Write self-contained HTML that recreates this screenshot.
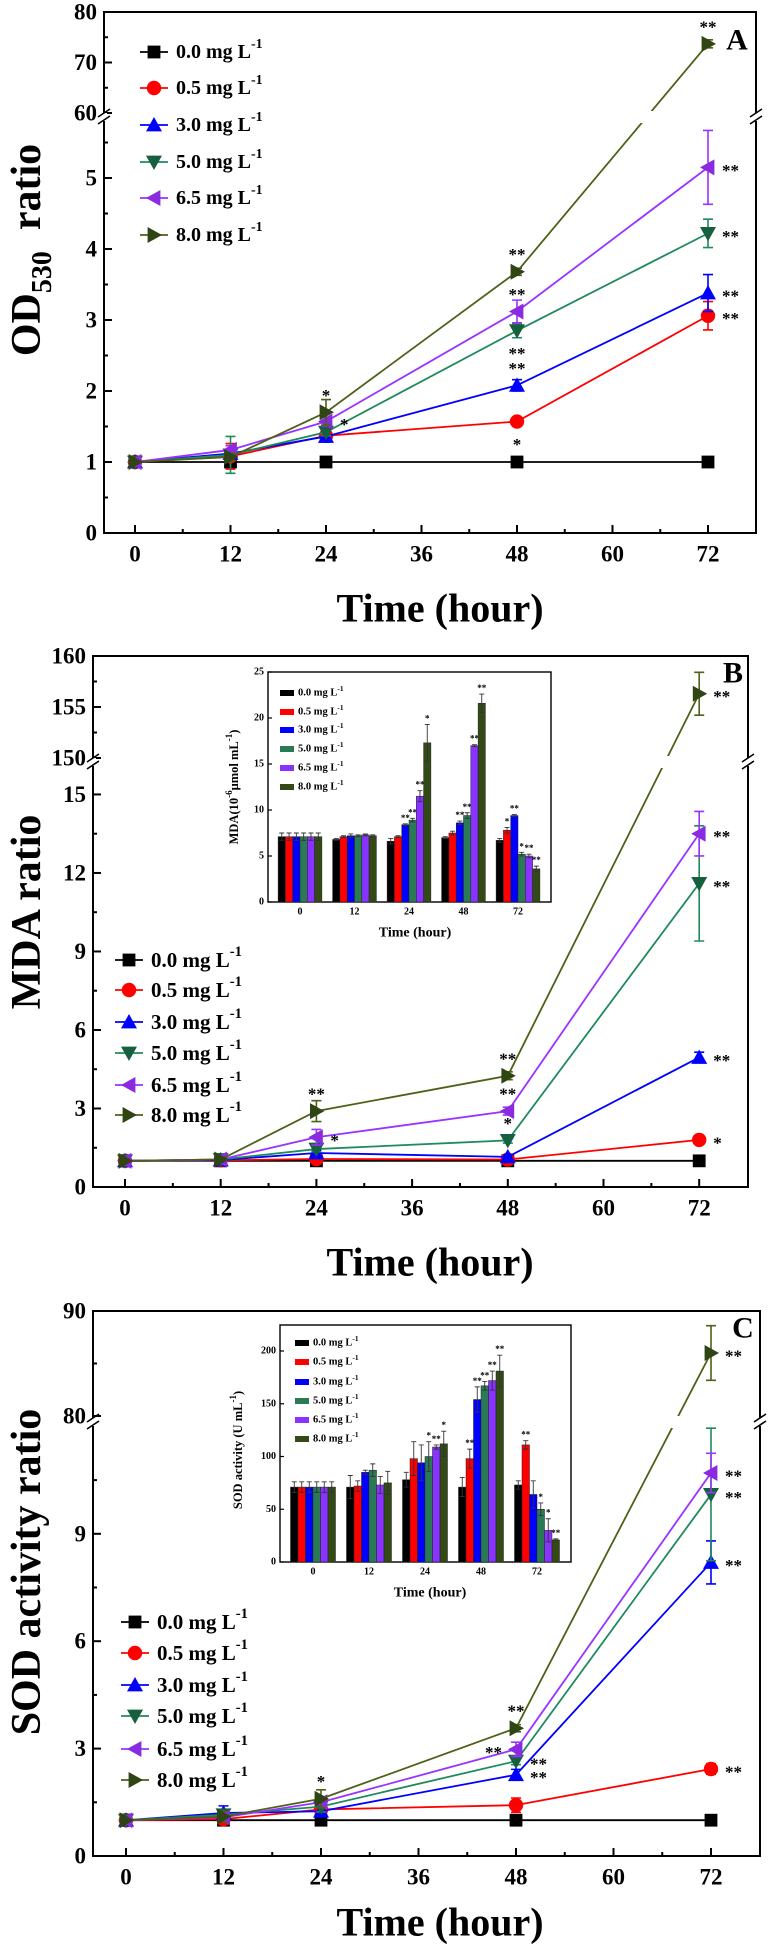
<!DOCTYPE html>
<html><head><meta charset="utf-8"><title>OD530, MDA and SOD ratios</title>
<style>
html,body{margin:0;padding:0;background:#fff;}
svg{display:block;font-family:"Liberation Serif",serif;font-weight:bold;}
</style></head>
<body>
<svg id="fig" width="770" height="1959" viewBox="0 0 770 1959" xmlns="http://www.w3.org/2000/svg"></svg>
<script>
// ---------- data ----------
const hours = [0, 12, 24, 48, 72];
const concLabels = ["0.0", "0.5", "3.0", "5.0", "6.5", "8.0"];
// Panel A: OD530 ratio
const odVals = [
  [1, 1, 1, 1, 1],
  [1, 1.08, 1.37, 1.57, 3.06],
  [1, 1.12, 1.36, 2.08, 3.38],
  [1, 1.10, 1.42, 2.85, 4.22],
  [1, 1.17, 1.57, 3.12, 5.15],
  [1, 1.07, 1.70, 3.68, 73.7]
];
const odErr = [
  [0, 0, 0, 0, 0],
  [0, 0.18, 0.04, 0.05, 0.2],
  [0, 0.05, 0.08, 0.08, 0.26],
  [0, 0.26, 0.05, 0.1, 0.2],
  [0, 0.06, 0.06, 0.16, 0.52],
  [0, 0.05, 0.18, 0.05, 0.8]
];
const odNotes = [[5,4,"**","a"],[4,4,"**","r"],[3,4,"**","r"],[2,4,"**","r"],[1,4,"**","r"],
  [5,3,"**","a"],[4,3,"**","a"],[3,3,"**","b"],[2,3,"**","a"],[1,3,"*","b"],[5,2,"*","a"],[4,2,"*","r"]];
// Panel B: MDA ratio
const mdaVals = [
  [1, 1, 1, 1, 1],
  [1, 1.02, 1.07, 1.05, 1.8],
  [1, 1.03, 1.3, 1.15, 4.95],
  [1, 1.05, 1.45, 1.78, 11.6],
  [1, 1.05, 1.9, 2.9, 13.5],
  [1, 1.05, 2.9, 4.25, 156.3]
];
const mdaErr = [
  [0, 0, 0, 0, 0],
  [0, 0.05, 0.05, 0.05, 0.1],
  [0, 0.05, 0.1, 0.08, 0.2],
  [0, 0.05, 0.1, 0.1, 2.2],
  [0, 0.05, 0.3, 0.15, 0.85],
  [0, 0.05, 0.4, 0.15, 2.1]
];
const mdaNotes = [[5,4,"**","r"],[4,4,"**","r"],[3,4,"**","r"],[2,4,"**","r"],[1,4,"*","r"],
  [5,3,"**","a"],[4,3,"**","a"],[3,3,"*","a"],[5,2,"**","a"],[4,2,"*","r"]];
// Panel C: SOD activity ratio
const sodVals = [
  [1, 1, 1, 1, 1],
  [1, 1.03, 1.3, 1.42, 2.43],
  [1, 1.2, 1.25, 2.27, 8.2],
  [1, 1.15, 1.38, 2.65, 10.1],
  [1, 1.08, 1.5, 2.98, 10.7],
  [1, 1.1, 1.6, 3.57, 86.0]
];
const sodErr = [
  [0, 0, 0, 0, 0],
  [0, 0.1, 0.1, 0.2, 0.15],
  [0, 0.2, 0.12, 0.15, 0.6],
  [0, 0.15, 0.15, 0.1, 1.85],
  [0, 0.12, 0.15, 0.2, 0.55],
  [0, 0.15, 0.25, 0.1, 2.6]
];
const sodNotes = [[5,4,"**","r"],[4,4,"**","r"],[3,4,"**","r"],[2,4,"**","r"],[1,4,"**","r"],
  [5,3,"**","a"],[4,3,"**","l"],[3,3,"**","r"],[2,3,"**","r"],[5,2,"*","a"]];
// Inset B: MDA content (10^-6 umol/mL), rows = time groups, cols = concentrations
const mdaInsetGroups = ["0", "12", "24", "48", "72"];
const mdaInsetVals = [
  [7.1, 7.1, 7.1, 7.1, 7.1, 7.1],
  [6.8, 7.1, 7.2, 7.2, 7.3, 7.2],
  [6.6, 7.1, 8.4, 8.9, 11.5, 17.3],
  [7.0, 7.5, 8.6, 9.4, 17.0, 21.6],
  [6.7, 7.8, 9.4, 5.2, 5.0, 3.6]
];
const mdaInsetErr = [
  [0.4, 0.4, 0.4, 0.4, 0.4, 0.4],
  [0.1, 0.1, 0.2, 0.1, 0.1, 0.1],
  [0.3, 0.1, 0.1, 0.2, 0.6, 2.0],
  [0.1, 0.2, 0.2, 0.3, 0.1, 1.0],
  [0.2, 0.3, 0.1, 0.2, 0.2, 0.3]
];
const mdaInsetStars = [
  ["","","","","",""],["","","","","",""],
  ["","","**","**","**","*"],["","","**","**","**","**"],["","*","**","*","**","**"]
];
// Inset C: SOD activity (U/mL)
const sodInsetGroups = ["0", "12", "24", "48", "72"];
const sodInsetVals = [
  [71, 71, 71, 71, 71, 71],
  [71, 72, 85, 87, 73, 75],
  [78, 98, 94, 100, 109, 112],
  [71, 98, 154, 167, 172, 181],
  [73, 111, 64, 50, 30, 21]
];
const sodInsetErr = [
  [5, 5, 5, 5, 5, 5],
  [11, 5, 2, 6, 8, 11],
  [7, 16, 17, 14, 2, 12],
  [9, 9, 12, 4, 9, 15],
  [4, 4, 13, 6, 11, 1]
];
const sodInsetStars = [
  ["","","","","",""],["","","","","",""],
  ["","","","*","**","*"],["","**","**","**","**","**"],["","**","","*","*","**"]
];

// ---------- helpers ----------
const NS = "http://www.w3.org/2000/svg";
const svg = document.getElementById("fig");
const lineCol = ["#000000","#ff0000","#0000ff","#1f8a5c","#9933ff","#4d6119"];
const markCol = ["#000000","#ff0000","#0000ff","#17603f","#8a2be2","#2f4514"];
const barCol = ["#000000","#ff0000","#0000ff","#2a7a55","#8833ff","#334a16"];
function mk(tag, attrs, parent) {
  const e = document.createElementNS(NS, tag);
  for (const k in attrs) e.setAttribute(k, attrs[k]);
  (parent || svg).appendChild(e);
  return e;
}
function txt(s, x, y, size, anchor, parent) {
  const t = mk("text", {x: x, y: y, "font-size": size, "text-anchor": anchor || "middle", "dominant-baseline": "central"}, parent);
  t.textContent = s;
  return t;
}
function marker(i, cx, cy, r, parent) {
  let e;
  const c = markCol[i];
  if (i === 0) e = mk("rect", {x: cx - r*0.8, y: cy - r*0.8, width: r*1.6, height: r*1.6, fill: c}, parent);
  else if (i === 1) e = mk("circle", {cx: cx, cy: cy, r: r*0.9, fill: c}, parent);
  else {
    let p;
    if (i === 2) p = [[cx, cy - r], [cx - r, cy + r*0.8], [cx + r, cy + r*0.8]];
    else if (i === 3) p = [[cx, cy + r], [cx - r, cy - r*0.8], [cx + r, cy - r*0.8]];
    else if (i === 4) p = [[cx - r, cy], [cx + r*0.8, cy - r], [cx + r*0.8, cy + r]];
    else p = [[cx + r, cy], [cx - r*0.8, cy - r], [cx - r*0.8, cy + r]];
    e = mk("polygon", {points: p.map(q => q.join(",")).join(" "), fill: c}, parent);
  }
  return e;
}
function legendText(parent, x, y, label, size) {
  const t = mk("text", {x: x, y: y, "font-size": size, "dominant-baseline": "central"}, parent);
  t.appendChild(document.createTextNode(label + " mg L"));
  const s = mk("tspan", {"baseline-shift": "super", "font-size": size * 0.7}, t);
  s.textContent = "-1";
  return t;
}

// ---------- main line panels ----------
function linePanel(cfg, vals, errs, notes) {
  const g = mk("g", {});
  
  
  const xs = h => cfg.x0 + h * cfg.kx;
  const ys = v => v <= cfg.lowMax ? cfg.lowY0 - v * cfg.lowK : cfg.upY0 - (v - cfg.upMin) * cfg.upK;
  // box
  const box = mk("rect", {x: cfg.left, y: cfg.top, width: cfg.right - cfg.left, height: cfg.bottom - cfg.top, fill: "none", stroke: "#000", "stroke-width": 2}, g);
  
  
  // x ticks
  for (let h = 0; h <= 72; h += 6) {
    const major = h % 12 === 0;
    const tk = mk("line", {x1: xs(h), x2: xs(h), y1: cfg.bottom, y2: cfg.bottom - (major ? 8 : 4), stroke: "#000", "stroke-width": 2}, g);
    
    
    if (major) {
      const lb = txt(String(h), xs(h), cfg.bottom + 21, 23, "middle", g);
      
      
    }
  }
  // y ticks
  cfg.lowTicks.forEach(v => {
    const tk = mk("line", {x1: cfg.left, x2: cfg.left + 8, y1: ys(v), y2: ys(v), stroke: "#000", "stroke-width": 2}, g);
    
    
    const lb = txt(String(v), cfg.left - 7, ys(v), 23, "end", g);
    
    
  });
  cfg.upTicks.forEach(v => {
    const tk = mk("line", {x1: cfg.left, x2: cfg.left + 8, y1: ys(v), y2: ys(v), stroke: "#000", "stroke-width": 2}, g);
    
    
    const lb = txt(String(v), cfg.left - 7, ys(v), 23, "end", g);
    
    
  });
  cfg.minorTicks.forEach(v => {
    const tk = mk("line", {x1: cfg.left, x2: cfg.left + 4, y1: ys(v), y2: ys(v), stroke: "#000", "stroke-width": 2}, g);
    
    
  });
  // axis breaks
  [cfg.left, cfg.right].forEach(ax => {
    mk("rect", {x: ax - 3, y: cfg.breakY - 4, width: 6, height: 8, fill: "#fff"}, g);
    [-4, 3].forEach(d => {
      const b = mk("line", {x1: ax - 6, y1: cfg.breakY + d + 4, x2: ax + 6, y2: cfg.breakY + d - 4, stroke: "#000", "stroke-width": 1.6}, g);
      
      
    });
  });
  // series
  vals.forEach((ser, i) => {
    const sg = mk("g", {}, g);
    
    
    const pts = ser.map((v, j) => [xs(hours[j]), ys(v)]);
    const pl = mk("polyline", {points: pts.map(p => p.join(",")).join(" "), fill: "none", stroke: lineCol[i], "stroke-width": 1.8}, sg);
    
    
    // gap at break
    for (let j = 1; j < ser.length; j++) {
      if ((ser[j] > cfg.lowMax) !== (ser[j-1] > cfg.lowMax)) {
        const [x1, y1] = pts[j-1], [x2, y2] = pts[j];
        const t = (cfg.breakY - y1) / (y2 - y1);
        const cx = x1 + t * (x2 - x1);
        mk("rect", {x: cx - 6, y: cfg.breakY - 6, width: 12, height: 12, fill: "#fff"}, sg);
      }
    }
    ser.forEach((v, j) => {
      const e = errs[i][j];
      if (e > 0) {
        const x = xs(hours[j]);
        const ya = ys(v + e), yb = ys(v - e);
        const eb = mk("path", {d: `M${x},${ya}V${yb}M${x-5},${ya}H${x+5}M${x-5},${yb}H${x+5}`, stroke: lineCol[i], "stroke-width": 1.6, fill: "none"}, sg);
        
        
      }
      const m = marker(i, xs(hours[j]), ys(v), 8, sg);
      
      
    });
  });
  // significance notes
  notes.forEach(n => {
    const [si, ti, s, side] = n;
    const x = xs(hours[ti]), y = ys(vals[si][ti]);
    let tx = x, ty = y, an = "middle";
    if (side === "r") { tx = x + 14; an = "start"; }
    else if (side === "l") { tx = x - 14; an = "end"; }
    else if (side === "a") { ty = y - 20; }
    else { ty = y + 20; }
    const t = txt(s, tx, ty + 3, 17, an, g);
    
    
  });
  // legend
  const lg = mk("g", {}, g);
  
  
  cfg.legRows.forEach((ry, i) => {
    const eg = mk("g", {}, lg);
    
    
    mk("line", {x1: cfg.legX, x2: cfg.legX + 28, y1: ry, y2: ry, stroke: lineCol[i], "stroke-width": 1.8}, eg);
    marker(i, cfg.legX + 14, ry, 8, eg);
    legendText(eg, cfg.legX + 36, ry, concLabels[i], cfg.legSize);
  });
  // panel letter
  const pl = txt(cfg.letter, cfg.letterX, cfg.letterY, 30, "middle", g);
  
  
  // axis titles
  const xt = txt("Time (hour)", cfg.xTitleX, cfg.xTitleY, 40, "middle", g);
  
  
  const yt = mk("text", {x: 0, y: 0, "font-size": 42, "text-anchor": "middle", "dominant-baseline": "central",
    transform: `translate(${cfg.yTitleX},${cfg.yTitleY}) rotate(-90)`}, g);
  
  
  if (cfg.yTitleSub) {
    yt.appendChild(document.createTextNode("OD"));
    const sub = mk("tspan", {"baseline-shift": "sub", "font-size": 28}, yt);
    sub.textContent = "530";
    const rest = mk("tspan", {"baseline-shift": "0"}, yt);
    rest.textContent = "\u00a0\u00a0ratio";
  } else yt.textContent = cfg.yTitle;
  return g;
}

// ---------- inset bar charts ----------
function barInset(cfg, groups, vals, errs, stars) {
  const g = mk("g", {});
  
  
  const ys = v => cfg.y0 - v * cfg.ky;
  mk("rect", {x: cfg.left, y: cfg.top, width: cfg.right - cfg.left, height: cfg.y0 - cfg.top, fill: "#fff", stroke: "#000", "stroke-width": 1.4}, g);
  cfg.ticks.forEach(v => {
    mk("line", {x1: cfg.left, x2: cfg.left + 4, y1: ys(v), y2: ys(v), stroke: "#000", "stroke-width": 1.2}, g);
    const t = txt(String(v), cfg.left - 4, ys(v), 10, "end", g);
    
    
  });
  const bw = cfg.bw;
  groups.forEach((gl, gi) => {
    const cx = cfg.gx0 + gi * cfg.gstep;
    const lb = txt(gl, cx, cfg.y0 + 10, 10, "middle", g);
    
    
    vals[gi].forEach((v, si) => {
      const x = cx - 3 * bw + si * bw;
      const r = mk("rect", {x: x, y: ys(v), width: bw, height: cfg.y0 - ys(v), fill: barCol[si], stroke: "#222", "stroke-width": 0.5}, g);
      
      
      const e = errs[gi][si];
      const mx = x + bw / 2;
      mk("path", {d: `M${mx},${ys(v - e)}V${ys(v + e)}M${mx-2.5},${ys(v + e)}H${mx+2.5}M${mx-2.5},${ys(v - e)}H${mx+2.5}`, stroke: "#333", "stroke-width": 0.9, fill: "none"}, g);
      if (stars[gi][si]) {
        const st = txt(stars[gi][si], mx, ys(v + e) - 6, 9, "middle", g);
        
        
      }
    });
  });
  // legend
  cfg.legRows.forEach((ry, i) => {
    const eg = mk("g", {}, g);
    
    
    mk("rect", {x: cfg.legX, y: ry - 3, width: 14, height: 6, fill: barCol[i]}, eg);
    legendText(eg, cfg.legX + 18, ry, concLabels[i], 10.5);
  });
  const xt = txt("Time (hour)", cfg.xTitleX, cfg.xTitleY, 14, "middle", g);
  
  
  const yt = mk("text", {x: 0, y: 0, "font-size": 12.5, "text-anchor": "middle", "dominant-baseline": "central",
    transform: `translate(${cfg.yTitleX},${cfg.yTitleY}) rotate(-90)`}, g);
  
  
  cfg.yTitleParts.forEach(p => {
    const s = mk("tspan", p[1] ? {"baseline-shift": "super", "font-size": 9} : {}, yt);
    s.textContent = p[0];
  });
  return g;
}

// ---------- build ----------
linePanel({name: "panel-a-od530", left: 104, right: 756, top: 12, bottom: 533, x0: 135, kx: 95.5 / 12,
  lowY0: 533, lowK: 71, lowMax: 10, upMin: 60, upY0: 113, upK: 5.05, breakY: 117,
  lowTicks: [0, 1, 2, 3, 4, 5], upTicks: [60, 70, 80], minorTicks: [0.5, 1.5, 2.5, 3.5, 4.5, 5.5, 65, 75],
  legX: 140, legRows: [52, 88, 125, 162, 198, 235], legSize: 20,
  letter: "A", letterX: 737, letterY: 40, xTitleX: 440, xTitleY: 608, yTitleX: 27, yTitleY: 250, yTitleSub: true},
  odVals, odErr, odNotes);

linePanel({name: "panel-b-mda", left: 93, right: 748, top: 656, bottom: 1187, x0: 125, kx: 95.7 / 12,
  lowY0: 1187, lowK: 26.17, lowMax: 20, upMin: 150, upY0: 758, upK: 10.2, breakY: 762,
  lowTicks: [0, 3, 6, 9, 12, 15], upTicks: [150, 155, 160], minorTicks: [1.5, 4.5, 7.5, 10.5, 13.5, 152.5, 157.5],
  legX: 115, legRows: [960, 990, 1022, 1053, 1085, 1115], legSize: 21,
  letter: "B", letterX: 733, letterY: 673, xTitleX: 430, xTitleY: 1262, yTitleX: 27, yTitleY: 912, yTitle: "MDA ratio"},
  mdaVals, mdaErr, mdaNotes);

linePanel({name: "panel-c-sod", left: 93, right: 760, top: 1311, bottom: 1856, x0: 126, kx: 97.5 / 12,
  lowY0: 1856, lowK: 35.8, lowMax: 20, upMin: 80, upY0: 1416, upK: 10.5, breakY: 1422,
  lowTicks: [0, 3, 6, 9], upTicks: [80, 90], minorTicks: [1.5, 4.5, 7.5, 10.5, 85],
  legX: 121, legRows: [1622, 1653, 1685, 1716, 1749, 1780], legSize: 21,
  letter: "C", letterX: 743, letterY: 1328, xTitleX: 440, xTitleY: 1922, yTitleX: 27, yTitleY: 1572, yTitle: "SOD activity ratio"},
  sodVals, sodErr, sodNotes);

barInset({name: "inset-b-mda-bars", left: 268, right: 551, top: 672, y0: 902, ky: 230 / 25,
  ticks: [0, 5, 10, 15, 20, 25], gx0: 300, gstep: 54.5, bw: 7.3,
  legX: 280, legRows: [693, 712, 730, 749, 768, 787],
  xTitleX: 415, xTitleY: 933, yTitleX: 234, yTitleY: 787,
  yTitleParts: [["MDA(10", false], ["-6", true], ["\u03bcmol mL", false], ["-1", true], [")", false]]},
  mdaInsetGroups, mdaInsetVals, mdaInsetErr, mdaInsetStars);

barInset({name: "inset-c-sod-bars", left: 280, right: 571, top: 1325, y0: 1562, ky: 211 / 200,
  ticks: [0, 50, 100, 150, 200], gx0: 313, gstep: 56, bw: 7.5,
  legX: 295, legRows: [1343, 1362, 1382, 1401, 1420, 1439],
  xTitleX: 430, xTitleY: 1593, yTitleX: 238, yTitleY: 1450,
  yTitleParts: [["SOD activity (U mL", false], ["-1", true], [")", false]]},
  sodInsetGroups, sodInsetVals, sodInsetErr, sodInsetStars);
</script>
</body></html>
